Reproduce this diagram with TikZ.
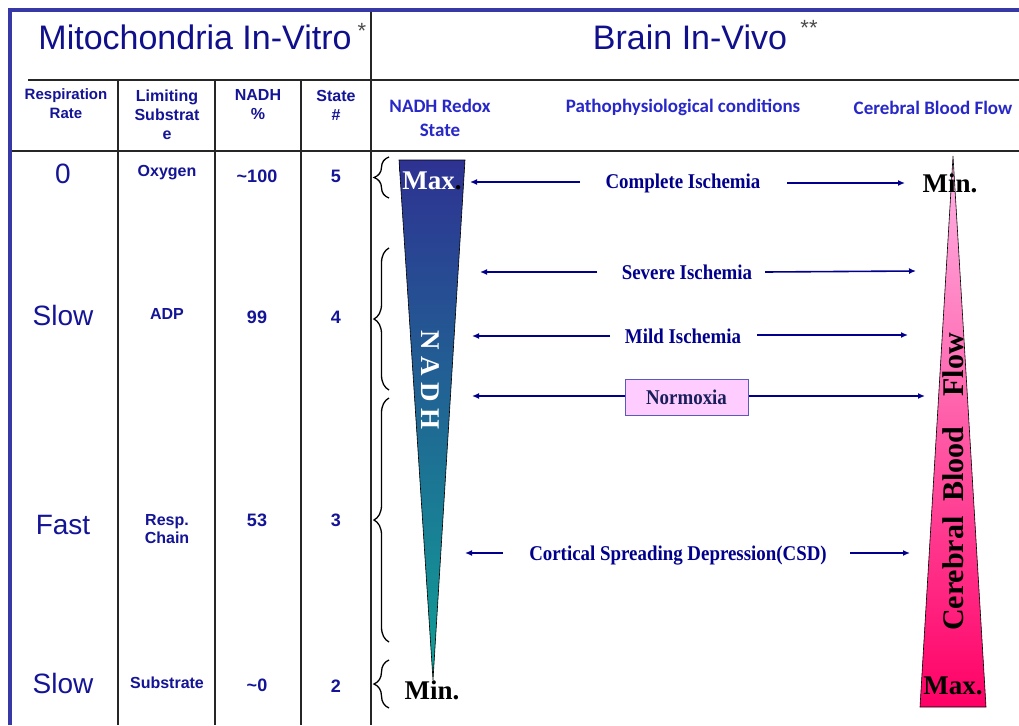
\documentclass[tikz,border=0pt]{standalone}
\usepackage{fontspec}
\setmainfont{Liberation Sans}
\newfontfamily\tnr{Liberation Serif}
\newfontfamily\tnrc[FakeStretch=0.9]{Liberation Serif}
\newfontfamily\calib{Carlito}
\usetikzlibrary{arrows.meta,decorations.pathreplacing,shapes.geometric}
\definecolor{titleblue}{RGB}{16,16,140}
\definecolor{tabblue}{RGB}{20,20,150}
\definecolor{hdblue}{RGB}{40,40,200}
\definecolor{arrblue}{RGB}{0,0,140}
\definecolor{frameblue}{RGB}{55,55,165}
\definecolor{nadhtop}{RGB}{46,50,146}
\definecolor{nadhbot}{RGB}{16,160,150}
\definecolor{cbftop}{RGB}{255,180,230}
\definecolor{cbfbot}{RGB}{255,0,102}
\definecolor{normfill}{RGB}{255,204,255}
\definecolor{normdraw}{RGB}{90,90,190}
\definecolor{normtext}{RGB}{25,30,90}
\tikzset{
  title/.style={font=\fontsize{34}{40}\selectfont, text=titleblue, inner sep=0pt},
  astx/.style={font=\fontsize{22}{24}\selectfont, text=black!70, inner sep=0pt},
  big/.style={font=\fontsize{28}{32}\selectfont, text=tabblue, inner sep=0pt},
  hd/.style={font=\bfseries\fontsize{16}{19}\selectfont, text=tabblue, align=center, inner sep=0pt},
  cell/.style={font=\bfseries\fontsize{16}{18}\selectfont, text=tabblue, align=center, inner sep=0pt},
  num/.style={font=\bfseries\fontsize{18}{20}\selectfont, text=tabblue, inner sep=0pt},
  rhd/.style={font=\calib\bfseries\fontsize{19}{24}\selectfont, text=hdblue, align=center, inner sep=0pt},
  cond/.style={font=\tnrc\bfseries\fontsize{21}{24}\selectfont, text=arrblue, inner sep=0pt},
  arr/.style={draw=arrblue, line width=1.6pt, -{Latex[length=7pt,width=6pt]}},
  gridline/.style={line width=1.1pt, draw=black!85},
  brc/.style={decorate, decoration={brace, amplitude=15pt}, line width=1.3pt},
  mm/.style={font=\tnr\bfseries\fontsize{27}{30}\selectfont, inner sep=0pt},
  normbox/.style={draw=normdraw, fill=normfill, line width=1pt, minimum width=123pt, minimum height=36pt,
    font=\tnrc\bfseries\fontsize{21}{22}\selectfont, text=normtext}
}
\begin{document}
\begin{tikzpicture}[x=1pt,y=-1pt]
\useasboundingbox (0,0) rectangle (1019,725);
\fill[white] (0,0) rectangle (1019,725);

% grid
\draw[gridline] (28,80) -- (1019,80);
\draw[gridline] (10,151) -- (1019,151);
\draw[gridline] (371,10) -- (371,725);
\foreach \xx in {118,215,301} \draw[gridline] (\xx,80) -- (\xx,725);
% frame
\draw[frameblue, line width=4pt] (10,725) -- (10,10) -- (1019,10);

% titles
\node[title] (t1) at (195,37) {Mitochondria In-Vitro};
\node[astx] (t1a) at (362,31) {*};
\node[title] (t2) at (690,37) {Brain In-Vivo};
\node[astx] (t2a) at (809,28) {**};

% left headers
\node[hd, font=\bfseries\fontsize{15}{19}\selectfont] (h1) at (66,104) {Respiration\\Rate};
\node[hd] (h2) at (167,115) {Limiting\\Substrat\\e};
\node[hd] (h3) at (258,105) {NADH\\\%};
\node[hd] (h4) at (336,105) {State\\\#};

% right headers
\node[rhd] (r1) at (440,118) {NADH Redox\\State};
\node[rhd] (r2) at (683,107) {Pathophysiological conditions};
\node[rhd] (r3) at (933,108) {Cerebral Blood Flow};

% rows
\node[big] (a1) at (63,174) {0};
\node[cell] (b1) at (167,173) {Oxygen};
\node[num] (c1) at (257,176) {\textasciitilde100};
\node[num] (d1) at (336,176) {5};
\node[big] (a2) at (63,315) {Slow};
\node[cell] (b2) at (167,314) {ADP};
\node[num] (c2) at (257,317) {99};
\node[num] (d2) at (336,317) {4};
\node[big] (a3) at (63,525) {Fast};
\node[cell] (b3) at (167,529) {Resp.\\Chain};
\node[num] (c3) at (257,520) {53};
\node[num] (d3) at (336,520) {3};
\node[big] (a4) at (63,683) {Slow};
\node[cell] (b4) at (167,683) {Substrate};
\node[num] (c4) at (257,685) {\textasciitilde0};
\node[num] (d4) at (336,686) {2};

% braces
\draw[brc] (389,198) -- (389,157);
\draw[brc] (389,390) -- (389,248);
\draw[brc] (389,642) -- (389,398);
\draw[brc] (389,708) -- (389,660);

% triangles
\shadedraw[top color=nadhtop, bottom color=nadhbot, draw=black, line width=0.6pt]
  (399,160) -- (465,160) -- (433,680) -- cycle;
\shadedraw[top color=cbftop, bottom color=cbfbot, draw=black, line width=0.6pt]
  (953,156) -- (986,707) -- (920,707) -- cycle;

\node[mm] (nmax) at (432,181) {\textcolor{white}{Max}.};
\node[mm] (nmin) at (432,690) {Min.};
\node[mm] (cmin) at (950,183) {Min.};
\node[mm] (cmax) at (953,686) {Max.};

\node[font=\tnr\bfseries\fontsize{27}{30}\selectfont, text=white, rotate=-90, inner sep=0pt] (nadh) at (430,380) {N A D H};
\node[font=\tnr\bfseries\fontsize{30}{32}\selectfont, rotate=90, inner sep=0pt] (cbf) at (953,482) {Cerebral\hspace{15pt}Blood\hspace{30pt}Flow};

% conditions
\node[cond] (ci) at (683,183) {Complete Ischemia};
\coordinate (ciLs) at (580,182); \coordinate (ciLe) at (470,182);
\coordinate (ciRs) at (787,183); \coordinate (ciRe) at (905,183);
\draw[arr] (ciLs) -- (ciLe);
\draw[arr] (ciRs) -- (ciRe);

\node[cond] (si) at (687,272) {Severe Ischemia};
\coordinate (siLs) at (597,272); \coordinate (siLe) at (480,272);
\coordinate (siRs) at (765,272); \coordinate (siRe) at (916,271);
\draw[arr] (siLs) -- (siLe);
\draw[arr] (siRs) -- (siRe);

\node[cond] (mi) at (683,336) {Mild Ischemia};
\coordinate (miLs) at (610,336); \coordinate (miLe) at (472,336);
\coordinate (miRs) at (757,335); \coordinate (miRe) at (908,335);
\draw[arr] (miLs) -- (miLe);
\draw[arr] (miRs) -- (miRe);

\node[normbox] (norm) at (686.5,397) {Normoxia};
\coordinate (nLe) at (472,396); \coordinate (nRe) at (925,396);
\draw[arr] (norm.west |- nLe) -- (nLe);
\draw[arr] (norm.east |- nRe) -- (nRe);

\node[cond] (csd) at (678,556) {Cortical Spreading Depression(CSD)};
\coordinate (csLs) at (503,553); \coordinate (csLe) at (465,553);
\coordinate (csRs) at (850,553); \coordinate (csRe) at (910,553);
\draw[arr] (csLs) -- (csLe);
\draw[arr] (csRs) -- (csRe);
\end{tikzpicture}
\end{document}
